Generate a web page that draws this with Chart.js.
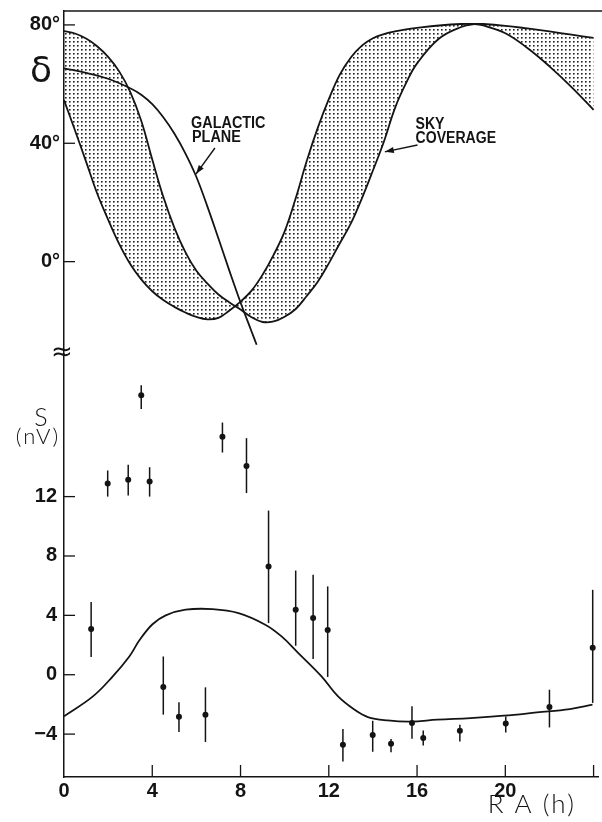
<!DOCTYPE html>
<html lang="en">
<head>
<meta charset="UTF-8">
<title>Sky coverage and S vs RA</title>
<script src="https://cdn.jsdelivr.net/npm/chart.js"></script>
<style>
    body { margin: 0; background: #fff; }
    #chart { display: block; }
</style>
</head>
<body>
<canvas id="chart" width="602" height="822"></canvas>
<script>
// top panel: declination (deg) against RA (h)
const gridH   = [0, 0.5, 1, 1.5, 2, 2.5, 3, 3.5, 4, 4.5, 5, 5.5, 6, 6.5, 7, 7.5, 8, 8.5, 9, 9.5, 10, 10.5, 11, 11.5, 12, 12.5, 13, 13.5, 14, 14.5, 15, 15.5, 16, 17, 18, 18.6, 19, 20, 21, 22, 23, 24];
// sky coverage limit starting at 54 deg
const coverA  = [54.6, 44.3, 33.8, 23.1, 14.2, 6.0, -0.8, -6.0, -10.0, -13.0, -15.3, -17.2, -18.7, -19.5, -19.0, -16.5, -13.5, -9.8, -4.4, 2.3, 10.2, 21.4, 34.0, 45.2, 54.9, 63.2, 69.0, 73.0, 75.5, 76.9, 77.8, 78.5, 79.0, 79.8, 80.3, 80.3, 79.8, 77.2, 72.2, 66.0, 59.0, 51.3];
// sky coverage limit starting at 78 deg
const coverB  = [77.9, 77.1, 75.4, 72.8, 69.2, 64.3, 57.4, 47.6, 34.5, 21.9, 11.5, 3.2, -3.1, -7.4, -11.1, -13.8, -16.2, -18.8, -20.4, -20.2, -18.6, -16.0, -11.6, -6.8, -0.6, 6.2, 12.9, 21.4, 30.8, 40.6, 51.9, 60.3, 67.0, 75.4, 79.3, 80.3, 80.3, 79.7, 78.8, 77.8, 76.7, 75.6];
// galactic plane
const planeH   = [0, 1, 2, 3, 3.5, 4, 4.5, 5, 5.5, 6, 6.5, 7, 7.5, 8, 8.5, 8.73];
const planeDec = [65.3, 63.8, 61.8, 58.6, 56.4, 53.2, 48.8, 43.3, 36.6, 28.6, 18.6, 7.8, -3.2, -13.8, -23.6, -28.1];

// bottom panel: S (nV) against RA (h)
const modelH = [0, 1.31, 2.21, 2.96, 3.41, 4.01, 4.61, 5.51, 6.71, 7.91, 9.12, 9.86, 10.62, 11.67, 12.42, 13.17, 13.77, 14.67, 15.72, 16.92, 18.42, 19.93, 21.43, 22.93, 23.95];
const modelS = [-2.8, -1.46, -0.11, 1.23, 2.3, 3.4, 4.0, 4.38, 4.42, 4.15, 3.37, 2.58, 1.46, -0.11, -1.46, -2.36, -2.85, -3.08, -3.16, -3.03, -2.92, -2.76, -2.54, -2.31, -2.02];
const raH  = [1.23, 1.98, 2.91, 3.5, 3.88, 4.5, 5.21, 6.41, 7.18, 8.27, 9.27, 10.5, 11.29, 11.95, 12.64, 13.99, 14.82, 15.77, 16.28, 17.94, 20.02, 22.0, 23.96];
const sVal = [3.08, 12.88, 13.13, 18.83, 13.02, -0.83, -2.83, -2.69, 16.03, 14.07, 7.29, 4.38, 3.82, 3.01, -4.71, -4.06, -4.65, -3.25, -4.27, -3.77, -3.28, -2.18, 1.82];
const sHi  = [4.9, 13.76, 14.14, 19.5, 13.98, 1.23, -1.86, -0.85, 16.99, 15.94, 11.06, 7.02, 6.73, 5.95, -3.66, -3.1, -4.33, -2.13, -3.75, -3.37, -2.81, -1.01, 5.72];
const sLo  = [1.19, 12.0, 12.07, 17.9, 12.0, -2.69, -3.86, -4.53, 14.97, 12.24, 3.48, 1.95, 1.06, -0.15, -5.84, -5.19, -5.23, -4.31, -4.76, -4.49, -3.89, -3.55, -1.9];

const decTicks = [0, 40, 80];
const sTicks = [-4, 0, 4, 8, 12];
const raTicks = [0, 4, 8, 12, 16, 20, 24];

const ink = '#141414';
const tickFont = { family: '"Liberation Sans", Arial, sans-serif', size: 20, weight: 'bold' };
const thinFont = '"Lato", "Open Sans", sans-serif';

// dotted fill for the sky coverage band
const dotCanvas = document.createElement('canvas');
dotCanvas.width = 4;
dotCanvas.height = 4;
const dc = dotCanvas.getContext('2d');
dc.fillStyle = '#222';
dc.fillRect(1, 1, 1.6, 1.6);
const dots = dc.createPattern(dotCanvas, 'repeat');

function pts(xs, ys) {
    return xs.map((v, i) => ({ x: v, y: ys[i] }));
}

function line(ctx, x1, y1, x2, y2) {
    ctx.beginPath();
    ctx.moveTo(x1, y1);
    ctx.lineTo(x2, y2);
    ctx.stroke();
}

function arrow(ctx, x1, y1, x2, y2) {
    line(ctx, x1, y1, x2, y2);
    const a = Math.atan2(y2 - y1, x2 - x1);
    ctx.beginPath();
    ctx.moveTo(x2, y2);
    ctx.lineTo(x2 - 9 * Math.cos(a) + 3 * Math.sin(a), y2 - 9 * Math.sin(a) - 3 * Math.cos(a));
    ctx.lineTo(x2 - 9 * Math.cos(a) - 3 * Math.sin(a), y2 - 9 * Math.sin(a) + 3 * Math.cos(a));
    ctx.closePath();
    ctx.fill();
}

function narrowText(ctx, text, x, y, sx) {
    ctx.save();
    ctx.translate(x, y);
    ctx.scale(sx, 1);
    ctx.fillText(text, 0, 0);
    ctx.restore();
}

// keep the plot area where the figure has it
function noPad(s) {
    s.paddingTop = 0;
    s.paddingBottom = 0;
    s.paddingLeft = 0;
    s.paddingRight = 0;
}

// error bars, inner tick marks, frame and the hand lettering
const extras = {
    id: 'extras',
    afterDatasetsDraw(chart) {
        const ctx = chart.ctx;
        const ca = chart.chartArea;
        const x = chart.scales.x, yT = chart.scales.yTop, yB = chart.scales.yBot;
        ctx.save();
        ctx.strokeStyle = ink;
        ctx.fillStyle = ink;

        ctx.lineWidth = 1.5;
        raH.forEach((h, i) => {
            const px = x.getPixelForValue(h);
            line(ctx, px, yB.getPixelForValue(sHi[i]), px, yB.getPixelForValue(sLo[i]));
        });

        ctx.lineWidth = 1.3;
        decTicks.forEach(v => { const py = yT.getPixelForValue(v); line(ctx, ca.left, py, ca.left + 11, py); });
        sTicks.forEach(v => { const py = yB.getPixelForValue(v); line(ctx, ca.left, py, ca.left + 11, py); });
        raTicks.slice(1).forEach(v => { const px = x.getPixelForValue(v); line(ctx, px, ca.bottom, px, ca.bottom - 12); });
        line(ctx, ca.left, ca.top, chart.width, ca.top);

        // axis break
        ctx.font = '26px "DejaVu Sans"';
        ctx.textAlign = 'center';
        ctx.textBaseline = 'middle';
        ctx.fillText('\u2248', ca.left - 2, yT.bottom);

        // axis names
        ctx.font = '36px "DejaVu Sans"';
        ctx.fillText('\u03b4', ca.left - 23, yT.getPixelForValue(64));
        ctx.font = '300 25px ' + thinFont;
        ctx.fillText('S', ca.left - 23, yB.getPixelForValue(17.3));
        ctx.letterSpacing = '2px';
        ctx.font = '300 22px ' + thinFont;
        ctx.fillText('(nV)', ca.left - 26, yB.getPixelForValue(16.0));
        ctx.font = '300 26px ' + thinFont;
        ctx.fillText('R A (h)', x.getPixelForValue(21.2), ca.bottom + 28);
        ctx.letterSpacing = '0px';

        // annotations
        ctx.textAlign = 'left';
        ctx.textBaseline = 'alphabetic';
        ctx.font = 'bold 16px "Liberation Sans", Arial, sans-serif';
        narrowText(ctx, 'GALACTIC', x.getPixelForValue(5.76), yT.getPixelForValue(45.2), 0.9);
        narrowText(ctx, 'PLANE', x.getPixelForValue(5.8), yT.getPixelForValue(40.4), 0.9);
        narrowText(ctx, 'SKY', x.getPixelForValue(15.93), yT.getPixelForValue(44.8), 0.88);
        narrowText(ctx, 'COVERAGE', x.getPixelForValue(15.93), yT.getPixelForValue(40.1), 0.88);
        ctx.lineWidth = 1.4;
        arrow(ctx, x.getPixelForValue(6.84), yT.getPixelForValue(38.4), x.getPixelForValue(5.98), yT.getPixelForValue(29.6));
        arrow(ctx, x.getPixelForValue(16.02), yT.getPixelForValue(39.4), x.getPixelForValue(14.54), yT.getPixelForValue(37.1));
        ctx.restore();
    }
};

const curve = { showLine: true, pointRadius: 0, borderColor: ink, borderWidth: 1.8, tension: 0.4 };

new Chart(document.getElementById('chart'), {
    type: 'scatter',
    data: {
        datasets: [
            { ...curve, data: pts(gridH, coverA), yAxisID: 'yTop', fill: '+1', backgroundColor: dots },
            { ...curve, data: pts(gridH, coverB), yAxisID: 'yTop', fill: false },
            { ...curve, data: pts(planeH, planeDec), yAxisID: 'yTop', fill: false },
            { ...curve, data: pts(modelH, modelS), yAxisID: 'yBot', fill: false },
            { data: pts(raH, sVal), yAxisID: 'yBot', showLine: false, pointRadius: 3, pointBackgroundColor: ink, pointBorderWidth: 0 }
        ]
    },
    options: {
        responsive: false,
        animation: false,
        layout: { padding: { top: 11, right: 0, bottom: 0, left: 0 } },
        plugins: { legend: { display: false }, tooltip: { enabled: false } },
        scales: {
            x: {
                type: 'linear', position: 'bottom', min: 0, max: 24.2,
                afterBuildTicks: s => { s.ticks = raTicks.map(v => ({ value: v })); },
                afterFit: s => { s.height = 45; noPad(s); },
                ticks: { font: tickFont, color: ink, padding: 2, maxRotation: 0, callback: v => (v === 24 ? '' : v) },
                grid: { drawOnChartArea: false, drawTicks: false },
                border: { color: ink, width: 1.5 }
            },
            yBot: {
                type: 'linear', position: 'left', stack: 'panels', stackWeight: 423.8,
                min: -6.89, max: 21.65,
                afterBuildTicks: s => { s.ticks = sTicks.map(v => ({ value: v })); },
                afterFit: s => { s.width = 64; noPad(s); },
                ticks: { font: tickFont, color: ink, padding: 7, callback: v => (v < 0 ? '\u2212' + Math.abs(v) : v) },
                grid: { drawOnChartArea: false, drawTicks: false },
                border: { color: ink, width: 1.5 }
            },
            yTop: {
                type: 'linear', position: 'left', stack: 'panels', stackWeight: 342.5,
                min: -31, max: 84.7,
                afterBuildTicks: s => { s.ticks = decTicks.map(v => ({ value: v })); },
                afterFit: s => { s.width = 64; noPad(s); },
                ticks: { font: tickFont, color: ink, padding: 4, callback: v => v + '\u00b0' },
                grid: { drawOnChartArea: false, drawTicks: false },
                border: { color: ink, width: 1.5 }
            }
        }
    },
    plugins: [extras]
});
</script>
</body>
</html>
